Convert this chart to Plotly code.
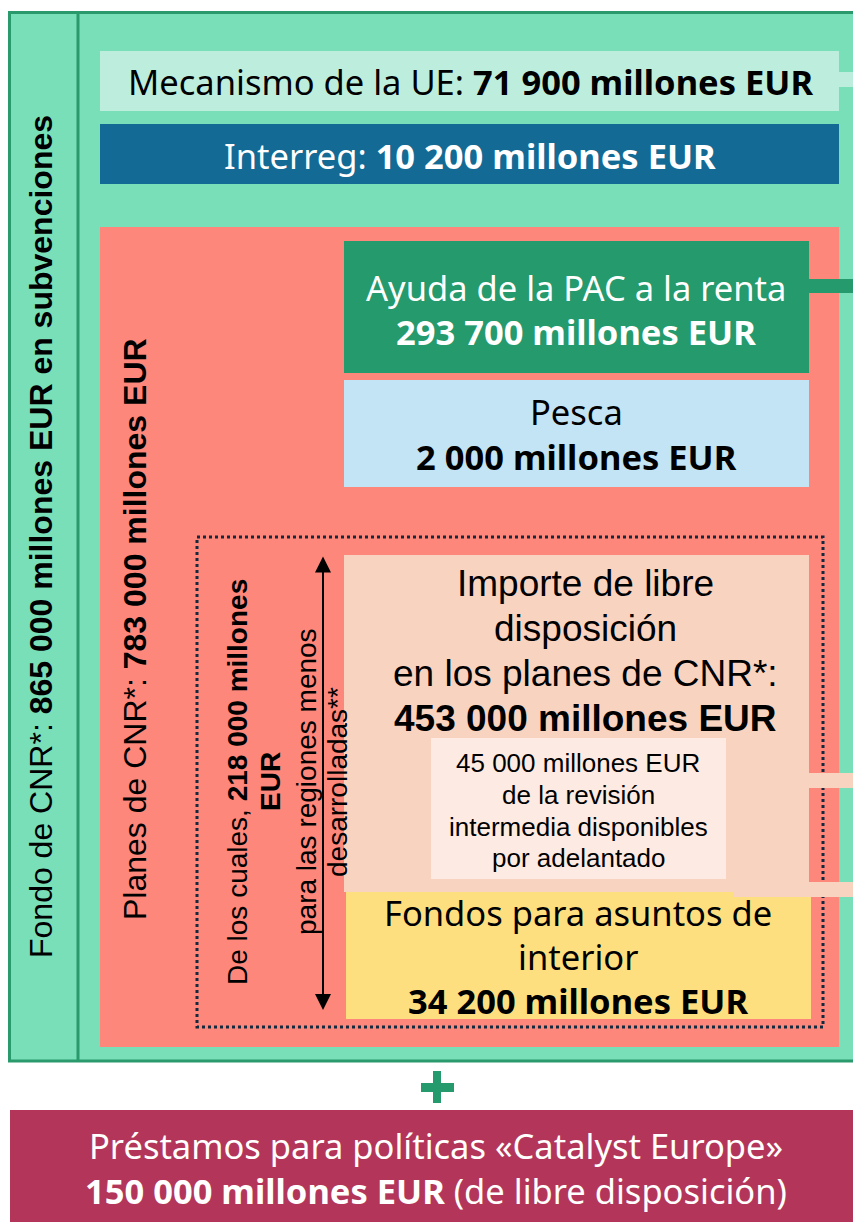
import plotly.graph_objects as go

W, H = 861, 1222
PAD = 8  # page body margin of the html page

# labels and amounts (millones EUR)
outer_label = ["Fondo de CNR*: ", "865 000 millones EUR en subvenciones"]
plans_label = ["Planes de CNR*: ", "783 000 millones EUR"]
mecanismo = ["Mecanismo de la UE: ", "71 900 millones EUR"]
interreg = ["Interreg: ", "10 200 millones EUR"]
pac = ["Ayuda de la PAC a la renta", "293 700 millones EUR"]
pesca = ["Pesca", "2 000 millones EUR"]
libre = ["Importe de libre", "disposición", "en los planes de CNR*:", "453 000 millones EUR"]
revision = ["45 000 millones EUR", "de la revisión", "intermedia disponibles", "por adelantado"]
interior = ["Fondos para asuntos de", "interior", "34 200 millones EUR"]
menos_dev = ["De los cuales, ", "218 000 millones", "EUR", "para las regiones menos", "desarrolladas**"]
loans = ["Préstamos para políticas «Catalyst Europe»", "150 000 millones EUR", " (de libre disposición)"]

GREEN = "#79dfb9"
GREEN_DK = "#2a9a6c"
SALMON = "#fe877b"
PEACH = "#f8d3c0"

ARIAL = "Liberation Sans, Arial, sans-serif"
APTOS = "Noto Sans, Open Sans, sans-serif"
BIG = 34.5

fig = go.Figure()
fig.add_trace(go.Scatter(x=[PAD, W], y=[PAD, H], mode="markers", marker_opacity=0,
                         hoverinfo="skip", showlegend=False))

shapes = []


def box(x0, y0, x1, y1, fill, line=None, lw=0, dash=None):
    d = dict(type="rect", xref="x", yref="y", x0=x0, y0=y0, x1=x1, y1=y1,
             fillcolor=fill, layer="above")
    if line:
        d["line"] = dict(color=line, width=lw, dash=dash or "solid")
    else:
        d["line"] = dict(width=0)
    shapes.append(d)


# outer green frame
box(9.5, 12.5, W + 5, 1061, GREEN, GREEN_DK, 3)
shapes.append(dict(type="line", xref="x", yref="y", x0=78, y0=12, x1=78, y1=1061,
                   line=dict(color=GREEN_DK, width=3), layer="above"))

# top bars
box(100, 51, 839, 111, "#bdeedd")
box(839, 72, W, 87, "#bdeedd")
box(100, 124, 839, 184, "#136a94")

# salmon block
box(100, 227, 839, 1047, SALMON)
box(344, 241, 809, 373, "#249a6d")
box(809, 279, W, 293, "#249a6d")
box(344, 380, 809, 487, "#c3e4f4")

# dotted frame
box(197, 537, 823, 1027, "rgba(0,0,0,0)", "#13293d", 3, "dot")

# libre disposicion block
box(344, 555, 809, 892, PEACH)
box(809, 773, W, 788, PEACH)
box(733, 882, W, 897, PEACH)
box(431, 738, 726, 879, "#fdebe3")
box(346, 892, 733, 1019, "#fedf7f")
box(733, 897, 811, 1019, "#fedf7f")

# plus sign
box(433, 1071, 441, 1103, "#249a6d")
box(421, 1083, 454, 1092, "#249a6d")

# loans bar
box(10, 1110, W + 5, H + 5, "#b3365a")

anns = []


def txt(x, y, s, size, color="black", font=APTOS, angle=0):
    anns.append(dict(x=x, y=y, xref="x", yref="y", text=s, showarrow=False,
                     textangle=angle, font=dict(size=size, color=color, family=font),
                     xanchor="center", yanchor="middle"))


txt(470, 81, mecanismo[0] + "<b>" + mecanismo[1] + "</b>", BIG)
txt(470, 155, interreg[0] + "<b>" + interreg[1] + "</b>", BIG, "white")
txt(576, 287, pac[0], BIG, "white")
txt(576, 331, "<b>" + pac[1] + "</b>", BIG, "white")
txt(576, 411, pesca[0], BIG)
txt(576, 456, "<b>" + pesca[1] + "</b>", BIG)

for yy, s in zip([583, 628, 673], libre[:3]):
    txt(585, yy, s, 37, font=ARIAL)
txt(585, 718, "<b>" + libre[3] + "</b>", 37, font=ARIAL)

for yy, s in zip([763, 795, 827, 858], revision):
    txt(578, yy, s, 26, font=ARIAL)

txt(578, 912, interior[0], BIG)
txt(578, 956, interior[1], BIG)
txt(578, 1000, "<b>" + interior[2] + "</b>", BIG)

# rotated labels
txt(41, 537, outer_label[0] + "<b>" + outer_label[1] + "</b>", 32, font=ARIAL, angle=-90)
txt(135, 629, plans_label[0] + "<b>" + plans_label[1] + "</b>", 32, font=ARIAL, angle=-90)
txt(237, 782, menos_dev[0] + "<b>" + menos_dev[1] + "</b>", 28, font=ARIAL, angle=-90)
txt(270, 782, "<b>" + menos_dev[2] + "</b>", 28, font=ARIAL, angle=-90)
txt(306, 782, menos_dev[3], 28, font=ARIAL, angle=-90)
txt(337, 782, menos_dev[4], 28, font=ARIAL, angle=-90)

# double arrow
anns.append(dict(x=323, y=1010, ax=323, ay=555, xref="x", yref="y", axref="x", ayref="y",
                 text="", showarrow=True, arrowside="end+start", arrowhead=2,
                 arrowsize=1.6, arrowwidth=2, arrowcolor="black"))

txt(436, 1145, loans[0], BIG, "white")
txt(436, 1190, "<b>" + loans[1] + "</b>" + loans[2], BIG, "white")

fig.update_layout(
    width=W - PAD, height=H - PAD, margin=dict(l=0, r=0, t=0, b=0),
    paper_bgcolor="white", plot_bgcolor="white",
    xaxis=dict(range=[PAD, W], visible=False, fixedrange=True),
    yaxis=dict(range=[H, PAD], visible=False, fixedrange=True),
    shapes=shapes, annotations=anns, showlegend=False,
)

fig.write_html("out.html")
